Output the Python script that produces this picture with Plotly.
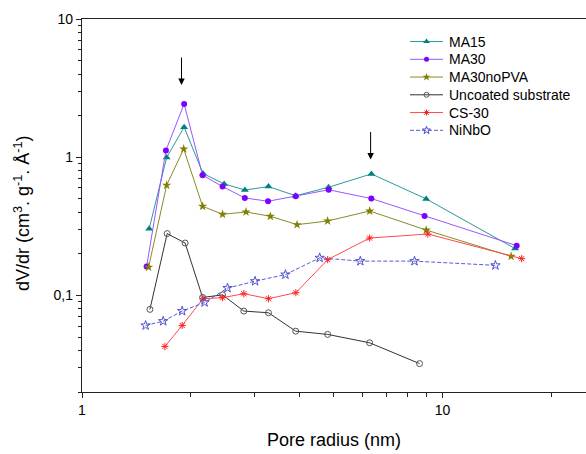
import math
import plotly.graph_objects as go

# ---- data ----
ma15_x = [1.536, 1.717, 1.920, 2.165, 2.479, 2.83, 3.29, 3.915, 4.83, 6.35, 9.01, 15.9]
ma15_y = [0.304, 0.995, 1.650, 0.762, 0.641, 0.579, 0.613, 0.526, 0.606, 0.757, 0.499, 0.218]

ma30_x = [1.511, 1.709, 1.920, 2.160, 2.454, 2.829, 3.282, 3.915, 4.833, 6.346, 8.917, 16.06]
ma30_y = [0.162, 1.118, 2.43, 0.741, 0.613, 0.507, 0.480, 0.522, 0.581, 0.502, 0.3755, 0.229]

ma30n_x = [1.530, 1.717, 1.915, 2.160, 2.454, 2.85, 3.33, 3.95, 4.80, 6.28, 9.01, 15.5]
ma30n_y = [0.160, 0.627, 1.148, 0.4415, 0.386, 0.4015, 0.3736, 0.325, 0.3455, 0.408, 0.297, 0.1917]

unc_x = [1.543, 1.723, 1.932, 2.160, 2.454, 2.811, 3.290, 3.915, 4.802, 6.278, 8.636]
unc_y = [0.0792, 0.280, 0.2393, 0.0967, 0.1008, 0.0770, 0.0749, 0.0551, 0.0522, 0.0454, 0.0321]

cs30_x = [1.698, 1.896, 2.165, 2.454, 2.811, 3.290, 3.920, 4.802, 6.278, 9.107, 16.58]
cs30_y = [0.0427, 0.0606, 0.0946, 0.0962, 0.1029, 0.0946, 0.1046, 0.1814, 0.260, 0.278, 0.1845]

nin_x = [1.501, 1.680, 1.896, 2.188, 2.533, 3.021, 3.667, 4.563, 5.916, 8.363, 14.02]
nin_y = [0.0606, 0.0651, 0.0770, 0.089, 0.113, 0.1267, 0.1415, 0.187, 0.177, 0.177, 0.165]

arrow_x = [1.888, 6.318]
arrow_y = [3.33, 0.962]

y_tickvals = [0.1, 1, 10]
y_ticktext = ["0,1", "1", "10"]
x_tickvals = [1, 10]
x_ticktext = ["1", "10"]

series = [
    ("MA15", ma15_x, ma15_y, dict(symbol="triangle-up", size=7, color="#008080"), dict(color="#2a9a9a", width=1)),
    ("MA30", ma30_x, ma30_y, dict(symbol="circle", size=6, color="#7f00ff"), dict(color="#9a55ff", width=1)),
    ("MA30noPVA", ma30n_x, ma30n_y, dict(symbol="star", size=7, color="#808000"), dict(color="#8a8a2a", width=1)),
    ("Uncoated substrate", unc_x, unc_y,
     dict(symbol="circle-open", size=6, color="#555555", line=dict(width=1)), dict(color="#333333", width=1)),
    ("CS-30", cs30_x, cs30_y,
     dict(symbol="asterisk-open", size=6, color="#ff2020", line=dict(width=1, color="#ff2020")), dict(color="#ff4a4a", width=1)),
    ("NiNbO", nin_x, nin_y,
     dict(symbol="star-open", size=7, color="#5050d0", line=dict(width=1, color="#5050d0")),
     dict(color="#5a5ad8", width=1, dash="4px,2px")),
]

fig = go.Figure()
for name, xs, ys, mk, ln in series:
    fig.add_trace(go.Scatter(x=xs, y=ys, mode="lines+markers", name=name, marker=mk, line=ln,
                             showlegend=False))

# ---- legend drawn on an overlay axis measured in pixels of the plot area ----
L_X0, L_X1, L_TX, L_Y0, L_DY = 410, 443, 447, 42, 17.7
for i, (name, xs, ys, mk, ln) in enumerate(series):
    yy = L_Y0 + L_DY * i
    small = dict(mk)
    small["size"] = mk["size"] - 1
    fig.add_trace(go.Scatter(x=[L_X0, L_X1], y=[yy, yy], mode="lines", line=ln,
                             xaxis="x2", yaxis="y2", showlegend=False, hoverinfo="skip"))
    fig.add_trace(go.Scatter(x=[(L_X0 + L_X1) / 2], y=[yy], mode="markers", marker=small,
                             xaxis="x2", yaxis="y2", showlegend=False, hoverinfo="skip"))
    fig.add_annotation(x=L_TX, y=yy, xref="x2", yref="y2", text=name, showarrow=False,
                       xanchor="left", yanchor="middle", font=dict(size=14, color="black"))

for ax_, ay_ in zip(arrow_x, arrow_y):
    fig.add_annotation(x=math.log10(ax_), y=math.log10(ay_),
                       xref="x", yref="y", ax=0, ay=-29, showarrow=True,
                       arrowhead=2, arrowsize=1.3, arrowwidth=1, arrowcolor="black", text="")

# y-axis title placed as a rotated annotation
fig.add_annotation(x=-60 / 504, y=0.477, xref="paper", yref="paper", showarrow=False,
                   text="dV/dr (cm<sup>3</sup>. g<sup>-1</sup>. Å<sup>-1</sup>)", textangle=-90,
                   xanchor="center", yanchor="middle", font=dict(size=18, color="black"))

minor_x = [m * d for d in (1, 10) for m in range(2, 10) if m * d <= 25]
minor_y = [m * d for d in (0.01, 0.1, 1) for m in range(2, 10) if 0.02 <= m * d <= 10]

fig.update_layout(
    width=586, height=454,
    margin=dict(l=82, r=0, t=19, b=62),
    paper_bgcolor="white", plot_bgcolor="white",
    font=dict(family="Liberation Sans, Arial, sans-serif", size=14, color="black"),
    showlegend=False,
    xaxis=dict(type="log", range=[0, 1.398], showgrid=False, zeroline=False,
               showline=True, linecolor="#222", linewidth=1.3, mirror=True,
               ticks="outside", ticklen=5, tickwidth=1.2, tickcolor="#222",
               tickvals=x_tickvals, ticktext=x_ticktext,
               minor=dict(tickvals=minor_x, ticks="outside", ticklen=4, tickwidth=1, tickcolor="#222"),
               title=dict(text="Pore radius (nm)", font=dict(size=18), standoff=16)),
    yaxis=dict(type="log", range=[-1.699, 1], showgrid=False, zeroline=False,
               showline=True, linecolor="#222", linewidth=1.3, mirror=False,
               ticks="outside", ticklen=5, tickwidth=1.2, tickcolor="#222",
               tickvals=y_tickvals, ticktext=y_ticktext,
               minor=dict(tickvals=minor_y, ticks="outside", ticklen=3, tickwidth=1, tickcolor="#222")),
    xaxis2=dict(overlaying="x", anchor="y2", range=[82, 586], visible=False, fixedrange=True),
    yaxis2=dict(overlaying="y", anchor="x2", range=[391.5, 19.5], visible=False, fixedrange=True),
)

fig.write_html("out.html", config={"displayModeBar": False},
               post_script="document.body.style.margin='0';")
